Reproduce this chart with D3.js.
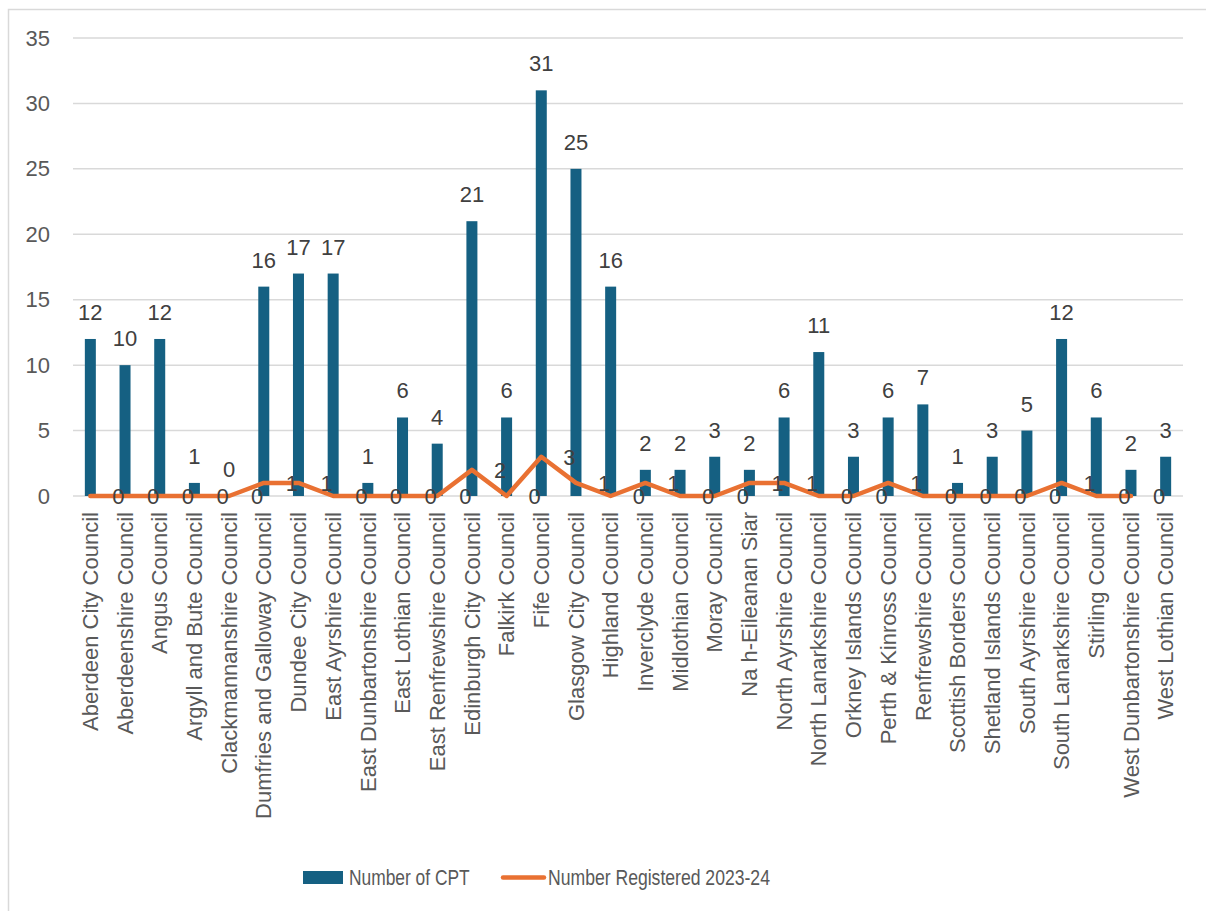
<!DOCTYPE html>
<html>
<head>
<meta charset="utf-8">
<script src="https://d3js.org/d3.v7.min.js"></script>
<style>
  body { margin: 0; background: #fff; }
  text { font-family: "Liberation Sans", Arial, sans-serif; }
</style>
</head>
<body>
<div id="chart"></div>
<script>
var councils = ["Aberdeen City Council", "Aberdeenshire Council", "Angus Council", "Argyll and Bute Council",
  "Clackmannanshire Council", "Dumfries and Galloway Council", "Dundee City Council", "East Ayrshire Council",
  "East Dunbartonshire Council", "East Lothian Council", "East Renfrewshire Council", "Edinburgh City Council",
  "Falkirk Council", "Fife Council", "Glasgow City Council", "Highland Council", "Inverclyde Council",
  "Midlothian Council", "Moray Council", "Na h-Eileanan Siar", "North Ayrshire Council",
  "North Lanarkshire Council", "Orkney Islands Council", "Perth & Kinross Council", "Renfrewshire Council",
  "Scottish Borders Council", "Shetland Islands Council", "South Ayrshire Council", "South Lanarkshire Council",
  "Stirling Council", "West Dunbartonshire Council", "West Lothian Council"];

var cpt = [12, 10, 12, 1, 0, 16, 17, 17, 1, 6, 4, 21, 6, 31, 25, 16, 2, 2, 3, 2, 6, 11, 3, 6, 7, 1, 3, 5, 12, 6, 2, 3];

// West Lothian has no registered value
var registered = [0, 0, 0, 0, 0, 1, 1, 0, 0, 0, 0, 2, 0, 3, 1, 0, 1, 0, 0, 1, 1, 0, 0, 1, 0, 0, 0, 0, 1, 0, 0, null];

var yTicks = [0, 5, 10, 15, 20, 25, 30, 35];

var seriesNames = ["Number of CPT", "Number Registered 2023-24"];

var svgWidth = 1206;
var svgHeight = 911;
var barColor = "#156082";
var lineColor = "#E97132";

var svg = d3.select("#chart")
  .append("svg")
  .attr("width", svgWidth)
  .attr("height", svgHeight);

// chart border (runs off the right and bottom of the picture)
svg.append("rect")
  .attr("x", 8.5)
  .attr("y", 9.5)
  .attr("width", 1400)
  .attr("height", 1000)
  .attr("fill", "none")
  .attr("stroke", "#D9D9D9")
  .attr("stroke-width", 1.5);

var xScale = d3.scaleBand()
  .domain(councils)
  .range([73, 1183]);

var yScale = d3.scaleLinear()
  .domain([0, 35])
  .range([496, 38]);

// gridlines
svg.append("g").selectAll("line")
  .data(yTicks)
  .enter()
  .append("line")
  .attr("x1", 73)
  .attr("x2", 1183)
  .attr("y1", d => yScale(d))
  .attr("y2", d => yScale(d))
  .attr("stroke", "#D9D9D9")
  .attr("stroke-width", 1.5);

var yAxis = d3.axisLeft(yScale)
  .tickValues(yTicks)
  .tickSize(0)
  .tickPadding(0);

var yAxisGroup = svg.append("g")
  .attr("transform", "translate(50, 0)")
  .call(yAxis);
yAxisGroup.select(".domain").remove();
yAxisGroup.selectAll("text")
  .attr("font-size", "22px")
  .attr("fill", "#595959")
  .style("font-family", "'Liberation Sans', Arial, sans-serif");

// bars
var barWidth = 11;
svg.append("g").selectAll("rect")
  .data(cpt)
  .enter()
  .append("rect")
  .attr("x", (d, i) => xScale(councils[i]) + xScale.bandwidth() / 2 - barWidth / 2)
  .attr("y", d => yScale(d))
  .attr("width", barWidth)
  .attr("height", d => yScale(0) - yScale(d))
  .attr("fill", barColor);

// bar value labels
svg.append("g").selectAll("text")
  .data(cpt)
  .enter()
  .append("text")
  .attr("x", (d, i) => xScale(councils[i]) + xScale.bandwidth() / 2)
  .attr("y", d => yScale(d) - 19)
  .attr("text-anchor", "middle")
  .attr("font-size", "22px")
  .attr("fill", "#404040")
  .text(d => d);

// line
var line = d3.line()
  .defined(d => d !== null)
  .x((d, i) => xScale(councils[i]) + xScale.bandwidth() / 2)
  .y(d => yScale(d));

svg.append("path")
  .datum(registered)
  .attr("d", line)
  .attr("fill", "none")
  .attr("stroke", lineColor)
  .attr("stroke-width", 4.5)
  .attr("stroke-linejoin", "round")
  .attr("stroke-linecap", "round");

// line value labels, placed right of each point
svg.append("g").selectAll("text")
  .data(registered.map((d, i) => ({ v: d, c: councils[i] })).filter(d => d.v !== null))
  .enter()
  .append("text")
  .attr("x", d => xScale(d.c) + xScale.bandwidth() / 2 + 22)
  .attr("y", d => yScale(d.v))
  .attr("dy", "0.36em")
  .attr("font-size", "22px")
  .attr("fill", "#404040")
  .text(d => d.v);

// category labels
svg.append("g").selectAll("text")
  .data(councils)
  .enter()
  .append("text")
  .attr("transform", d => `translate(${xScale(d) + xScale.bandwidth() / 2}, 512) rotate(-90)`)
  .attr("dy", "0.35em")
  .attr("text-anchor", "end")
  .attr("font-size", "22px")
  .attr("fill", "#595959")
  .text(d => d);

// legend
var legend = svg.append("g");
legend.append("rect")
  .attr("x", 303)
  .attr("y", 871)
  .attr("width", 40)
  .attr("height", 13)
  .attr("fill", barColor);
legend.append("text")
  .attr("transform", "translate(349, 885) scale(0.79, 1)")
  .attr("font-size", "22px")
  .attr("fill", "#595959")
  .text(seriesNames[0]);
legend.append("line")
  .attr("x1", 503)
  .attr("x2", 544)
  .attr("y1", 877.5)
  .attr("y2", 877.5)
  .attr("stroke", lineColor)
  .attr("stroke-width", 4.5)
  .attr("stroke-linecap", "round");
legend.append("text")
  .attr("transform", "translate(548, 885) scale(0.8, 1)")
  .attr("font-size", "22px")
  .attr("fill", "#595959")
  .text(seriesNames[1]);
</script>
</body>
</html>
